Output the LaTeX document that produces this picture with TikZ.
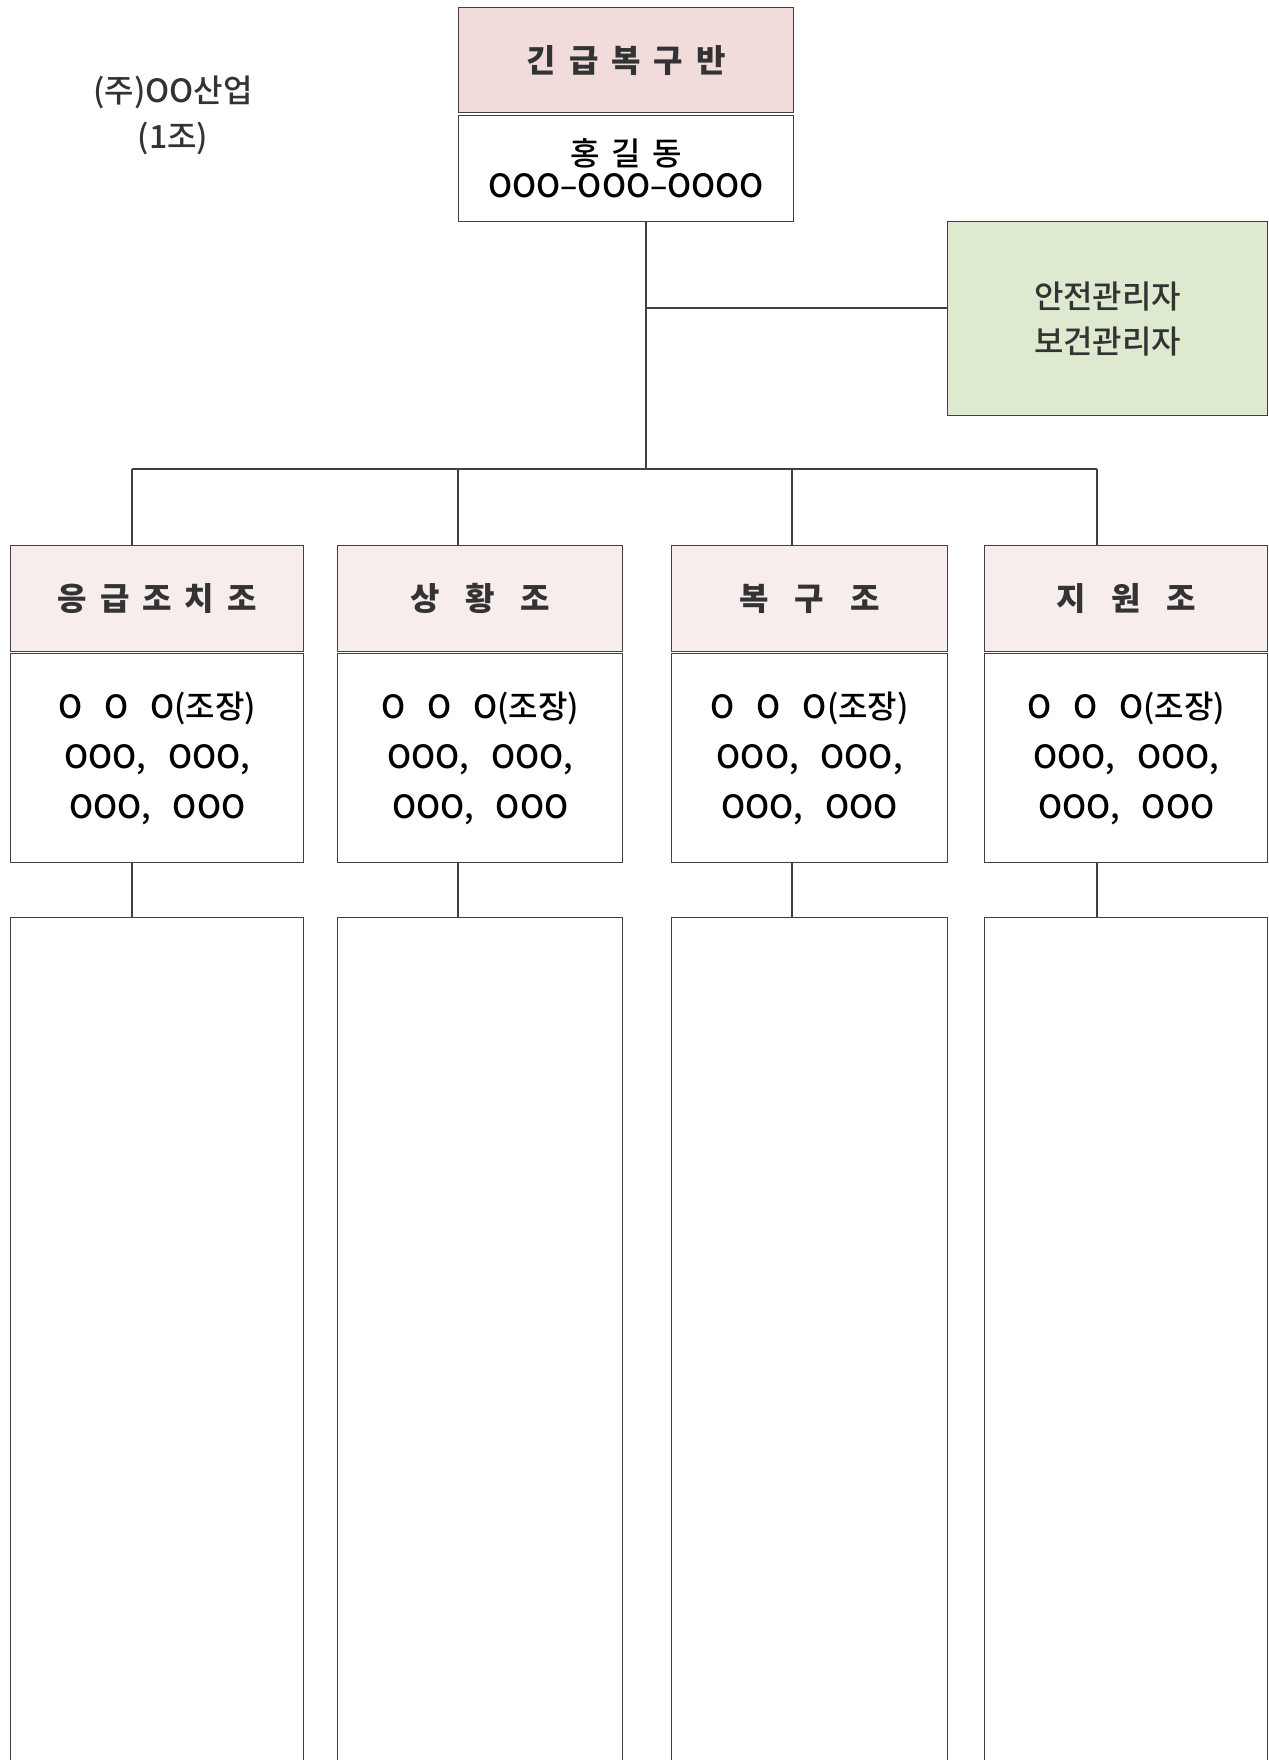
\documentclass[tikz,border=0pt]{standalone}
\usepackage{fontspec}
\newfontfamily\kr{Noto Sans CJK KR}
\IfFontExistsTF{Noto Sans CJK KR Medium}
  {\newfontfamily\krmid{Noto Sans CJK KR Medium}}
  {\newfontfamily\krmid{Noto Sans CJK KR}}
\usetikzlibrary{positioning,calc}

\definecolor{headpink}{RGB}{242,220,219}
\definecolor{teampink}{RGB}{247,237,236}
\definecolor{safegreen}{RGB}{222,234,208}
\definecolor{edge}{RGB}{64,64,64}
\definecolor{ink}{RGB}{51,51,51}

\tikzset{
  box/.style={rectangle, draw=edge, line width=0.7pt, anchor=north west, inner sep=0pt, align=center},
  headtxt/.style={font={\kr\bfseries\fontsize{16}{24}\selectfont\spaceskip=6.5pt\relax}, text=ink},
  bodytxt/.style={font={\krmid\fontsize{16}{25}\selectfont\spaceskip=11pt\relax}, text=black},
  link/.style={draw=edge, line width=0.6pt}
}

\begin{document}
\begin{tikzpicture}[x=0.5pt, y=-0.5pt]
    % Fix page size
    \useasboundingbox (0,0) rectangle (1268,1760);

    % Company label
    \node[font={\krmid\fontsize{16}{23}\selectfont}, text=ink, align=center] (firm) at (173,115) {(주)OO산업\\(1조)};

    % Draw head box
    \node[box, headtxt, fill=headpink, minimum width=167.5pt, minimum height=52.5pt] (hqhead) at (458,7) {긴 급 복 구 반};
    \node[box, font={\krmid\fontsize{16}{16}\selectfont\spaceskip=6pt\relax}, minimum width=167.5pt, minimum height=53pt] (hqbody) at (458,115) {홍 길 동\\OOO–OOO–OOOO};

    % Draw safety box
    \node[box, fill=safegreen, text=ink, font={\krmid\fontsize{16}{22.5}\selectfont}, minimum width=160pt, minimum height=97pt] (safety) at (947,221) {안전관리자\\보건관리자};

    % Draw team boxes
    \node[box, headtxt, fill=teampink, minimum width=146.5pt, minimum height=53pt] (emhead) at (10,545) {응 급 조 치 조};
    \node[box, bodytxt, minimum width=146.5pt, minimum height=104.5pt] (emmem) at (10,653) {O O O(조장)\\OOO, OOO,\\OOO, OOO};
    \node[box, minimum width=146.5pt, minimum height=431.5pt] (emlow) at (10,917) {};

    \node[box, headtxt, fill=teampink, minimum width=142.5pt, minimum height=53pt] (sithead) at (337,545) {상 \ 황 \ 조};
    \node[box, bodytxt, minimum width=142.5pt, minimum height=104.5pt] (sitmem) at (337,653) {O O O(조장)\\OOO, OOO,\\OOO, OOO};
    \node[box, minimum width=142.5pt, minimum height=431.5pt] (sitlow) at (337,917) {};

    \node[box, headtxt, fill=teampink, minimum width=138pt, minimum height=53pt] (rechead) at (671,545) {복 \ 구 \ 조};
    \node[box, bodytxt, minimum width=138pt, minimum height=104.5pt] (recmem) at (671,653) {O O O(조장)\\OOO, OOO,\\OOO, OOO};
    \node[box, minimum width=138pt, minimum height=431.5pt] (reclow) at (671,917) {};

    \node[box, headtxt, fill=teampink, minimum width=141.5pt, minimum height=53pt] (suphead) at (984,545) {지 \ 원 \ 조};
    \node[box, bodytxt, minimum width=141.5pt, minimum height=104.5pt] (supmem) at (984,653) {O O O(조장)\\OOO, OOO,\\OOO, OOO};
    \node[box, minimum width=141.5pt, minimum height=431.5pt] (suplow) at (984,917) {};

    % Draw tree lines
    \coordinate (trunk) at (646,469);
    \coordinate (tap) at (646,308);
    \coordinate (b1) at (132,469);
    \coordinate (b2) at (458,469);
    \coordinate (b3) at (792,469);
    \coordinate (b4) at (1097,469);
    \draw[link] (hqbody.south -| trunk) -- (trunk);
    \draw[link] (tap) -- (tap -| safety.west);
    \draw[link] (b1) -- (b4);
    \draw[link] (b1) -- (b1 |- emhead.north);
    \draw[link] (b2) -- (b2 |- sithead.north);
    \draw[link] (b3) -- (b3 |- rechead.north);
    \draw[link] (b4) -- (b4 |- suphead.north);
    \draw[link] (emmem.south -| b1) -- (b1 |- emlow.north);
    \draw[link] (sitmem.south -| b2) -- (b2 |- sitlow.north);
    \draw[link] (recmem.south -| b3) -- (b3 |- reclow.north);
    \draw[link] (supmem.south -| b4) -- (b4 |- suplow.north);
\end{tikzpicture}
\end{document}
